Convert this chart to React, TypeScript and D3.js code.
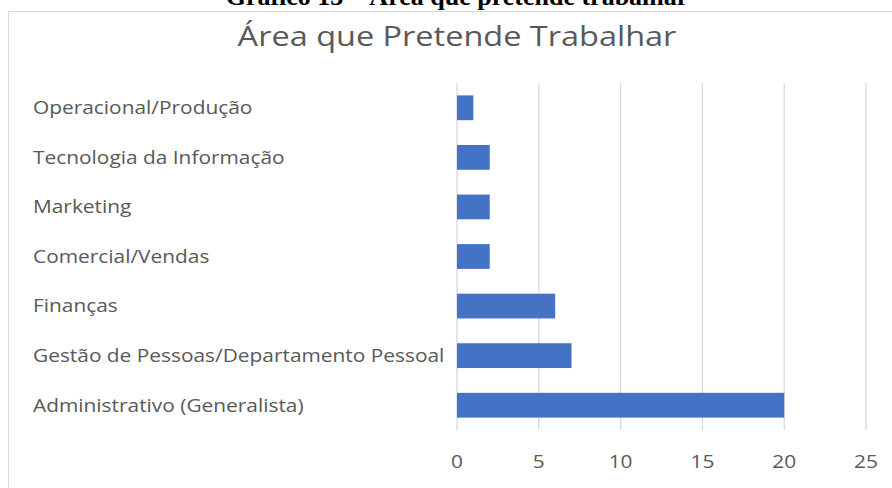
import React from "react";
import * as d3 from "d3";

const categories = [
  "Operacional/Produção",
  "Tecnologia da Informação",
  "Marketing",
  "Comercial/Vendas",
  "Finanças",
  "Gestão de Pessoas/Departamento Pessoal",
  "Administrativo (Generalista)",
];
const values = [1, 2, 2, 2, 6, 7, 20];
const xTicks = [0, 5, 10, 15, 20, 25];
const chartTitle = "Área que Pretende Trabalhar";
const caption = "Gráfico 13 – Área que pretende trabalhar";

const W = 892;
const H = 488;
const FONT = "'Open Sans', 'Noto Sans', sans-serif";
const SX = 1.16;

export default function App() {
  const x = d3.scaleLinear().domain([0, 25]).range([457, 866]);
  const y = d3.scaleBand<string>().domain(categories).range([83, 430]).paddingInner(0.5).paddingOuter(0.25);
  return (
    <svg width={W} height={H} style={{ position: "absolute", left: 0, top: 0, background: "#fff" }}>
      <rect x={0} y={0} width={W} height={H} fill="#fff" />
      <text x={457} y={4.5} textAnchor="middle" fontFamily="'Liberation Serif', 'Times New Roman', serif" fontWeight="bold" fontSize={26} fill="#000">
        {caption}
      </text>
      <rect x={8.5} y={11.5} width={W + 10} height={H + 10} fill="#fff" stroke="#d9d9d9" strokeWidth={1} />
      <text transform={`translate(457,46) scale(${SX},1)`} textAnchor="middle" fontFamily={FONT} fontSize={28} fill="#595959">
        {chartTitle}
      </text>
      {xTicks.map((t) => (
        <g key={t}>
          <line x1={x(t)} x2={x(t)} y1={83} y2={430} stroke="#d9d9d9" strokeWidth={1.3} />
          <text transform={`translate(${x(t)},468) scale(${SX},1)`} textAnchor="middle" fontFamily={FONT} fontSize={18} fill="#595959">
            {t}
          </text>
        </g>
      ))}
      {categories.map((c, i) => (
        <g key={c}>
          <rect x={x(0)} y={y(c)!} width={x(values[i]) - x(0)} height={y.bandwidth()} fill="#4472c4" />
          <text transform={`translate(33,${y(c)! + y.bandwidth() / 2}) scale(${SX},1)`} dy="0.35em" fontFamily={FONT} fontSize={18} fill="#595959">
            {c}
          </text>
        </g>
      ))}
    </svg>
  );
}
